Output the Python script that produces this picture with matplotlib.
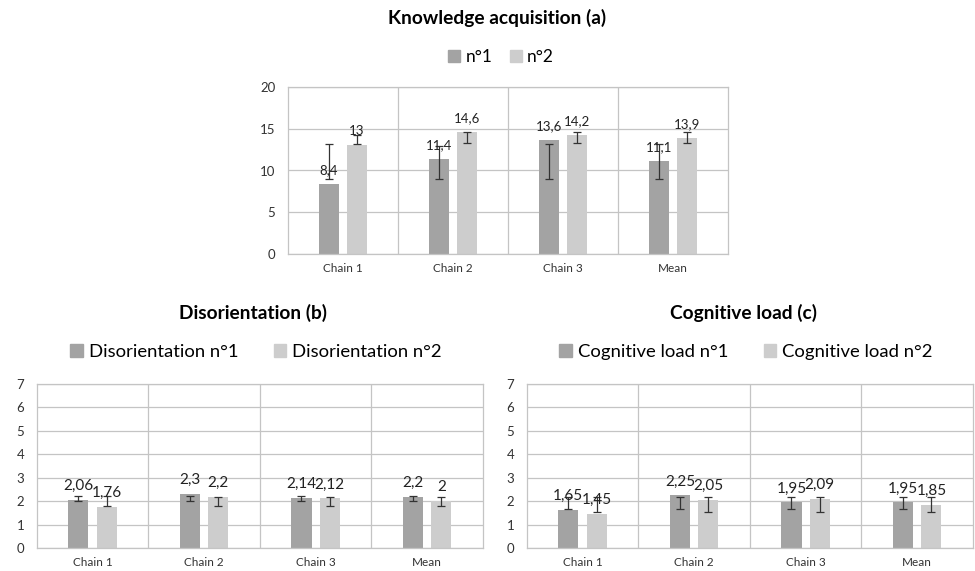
import numpy as np
import matplotlib
matplotlib.use("Agg")
import matplotlib.pyplot as plt
from matplotlib.patches import Patch

plt.rcParams['font.family'] = ['Lato', 'DejaVu Sans']

categories = ['Chain 1', 'Chain 2', 'Chain 3', 'Mean']

# knowledge acquisition (a)
know1 = [8.4, 11.4, 13.6, 11.1]
know2 = [13, 14.6, 14.2, 13.9]
know1_lo = [8.95, 8.95, 8.95, 8.95]
know1_hi = [13.2, 12.9, 13.2, 13.2]
know2_lo = [13.2, 13.25, 13.25, 13.25]
know2_hi = [14.2, 14.55, 14.55, 14.55]

# disorientation (b)
dis1 = [2.06, 2.3, 2.14, 2.2]
dis2 = [1.76, 2.2, 2.12, 2.0]
dis1_lo = [2.03, 2.03, 2.03, 2.03]
dis1_hi = [2.24, 2.24, 2.24, 2.24]
dis2_lo = [1.81, 1.81, 1.81, 1.81]
dis2_hi = [2.24, 2.2, 2.2, 2.2]

# cognitive load (c)
cog1 = [1.65, 2.25, 1.95, 1.95]
cog2 = [1.45, 2.05, 2.09, 1.85]
cog1_lo = [1.67, 1.67, 1.67, 1.67]
cog1_hi = [2.2, 2.2, 2.2, 2.2]
cog2_lo = [1.56, 1.56, 1.56, 1.56]
cog2_hi = [2.17, 2.17, 2.17, 2.17]

c1 = '#a3a3a3'
c2 = '#cdcdcd'
gridc = '#c4c4c4'


def fmt(v):
    s = ('%g' % v)
    return s.replace('.', ',')


def draw(ax, v1, v2, lo1, hi1, lo2, hi2, ymax, lblsize):
    x = np.arange(len(categories))
    w = 0.18
    off = 0.127
    for vals, lo, hi, dx, col in [(v1, lo1, hi1, -off, c1), (v2, lo2, hi2, off, c2)]:
        vals = np.array(vals)
        lo = np.array(lo)
        hi = np.array(hi)
        ax.bar(x + dx, vals, w, color=col, zorder=2)
        mid = (lo + hi) / 2
        ax.errorbar(x + dx, mid, yerr=(hi - lo) / 2, fmt='none', ecolor='#333333',
                    elinewidth=0.9, capsize=3, capthick=0.9, zorder=3)
        for xi, v in zip(x + dx, vals):
            ax.annotate(fmt(v), (xi, v), xytext=(0, 10), textcoords='offset points',
                        ha='center', va='center', fontsize=lblsize, color='#222222', zorder=4)
    ax.set_xlim(-0.5, len(categories) - 0.5)
    ax.set_ylim(0, ymax)
    ax.set_xticks(x)
    ax.set_xticklabels(categories, fontsize=8.5)
    ax.tick_params(axis='both', length=0, pad=6, colors='#333333')
    ax.tick_params(axis='y', labelsize=9.5, pad=9)
    for b in np.arange(0.5, len(categories) - 0.5, 1):
        ax.axvline(b, color=gridc, lw=0.9, zorder=1)
    ax.yaxis.grid(True, color=gridc, lw=0.9, zorder=1)
    ax.set_axisbelow(True)
    for s in ax.spines.values():
        s.set_color(gridc)
        s.set_linewidth(0.9)


fig = plt.figure(figsize=(9.75, 5.71), dpi=100)

axa = fig.add_axes([288 / 975, 316.7 / 571, 440 / 975, 167.6 / 571])
draw(axa, know1, know2, know1_lo, know1_hi, know2_lo, know2_hi, 20, 9.5)
axa.set_yticks([0, 5, 10, 15, 20])

axb = fig.add_axes([36.7 / 975, 22.7 / 571, 446.3 / 975, 164.6 / 571])
draw(axb, dis1, dis2, dis1_lo, dis1_hi, dis2_lo, dis2_hi, 7, 11)
axb.set_yticks(range(8))

axc = fig.add_axes([526.7 / 975, 22.7 / 571, 446.3 / 975, 164.6 / 571])
draw(axc, cog1, cog2, cog1_lo, cog1_hi, cog2_lo, cog2_hi, 7, 11)
axc.set_yticks(range(8))

fig.text(497 / 975, 1 - 18 / 571, 'Knowledge acquisition (a)', ha='center', va='center',
         fontsize=13.8, fontweight='bold')
fig.text(253 / 975, 1 - 313 / 571, 'Disorientation (b)', ha='center', va='center',
         fontsize=13.8, fontweight='bold')
fig.text(743 / 975, 1 - 313 / 571, 'Cognitive load (c)', ha='center', va='center',
         fontsize=13.8, fontweight='bold')

def legend(labels, xc, yc, size, gap):
    h = [Patch(color=c1, label=labels[0]), Patch(color=c2, label=labels[1])]
    fig.legend(handles=h, loc='center', bbox_to_anchor=(xc / 975, 1 - yc / 571), ncol=2,
               frameon=False, fontsize=size, handlelength=0.7, handleheight=0.7,
               handletextpad=0.3, columnspacing=gap)

legend(['n°1', 'n°2'], 501, 57, 12.5, 1.0)
legend(['Disorientation n°1', 'Disorientation n°2'], 256, 352, 13.3, 1.9)
legend(['Cognitive load n°1', 'Cognitive load n°2'], 746, 352, 13.3, 1.9)

fig.savefig('out.png', dpi=100)
